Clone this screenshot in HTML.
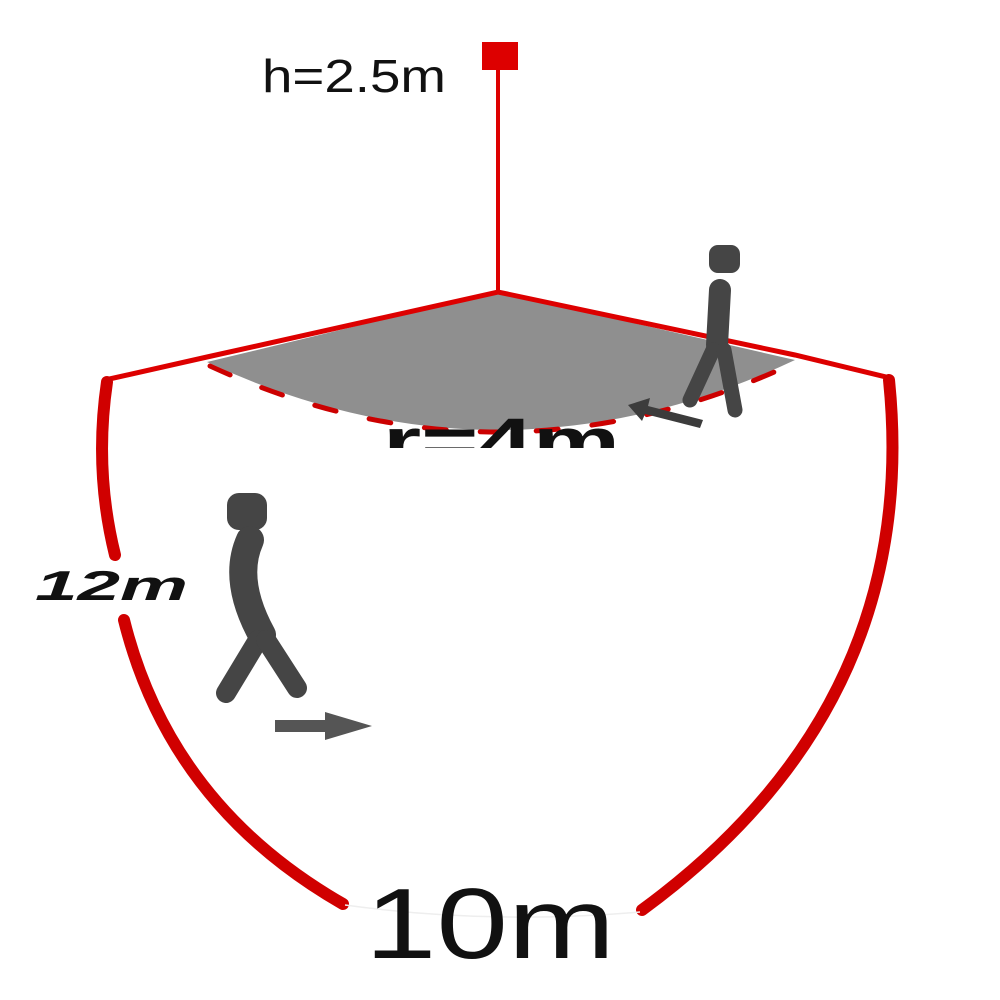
<!DOCTYPE html>
<html><head><style>html,body{margin:0;padding:0;background:#fff}svg{display:block}</style></head>
<body>
<svg width="1000" height="1000" viewBox="0 0 1000 1000" xmlns="http://www.w3.org/2000/svg">
<defs><clipPath id="c"><rect x="0" y="0" width="1000" height="448"/></clipPath></defs>
<!-- floor sector -->
<path d="M498,292 L207,362 Q500,499 795,360 Z" fill="#8f8f8f"/>
<path d="M210,366 Q500,499 792,364" fill="none" stroke="#cc0000" stroke-width="5" stroke-dasharray="22,34" stroke-linecap="round"/>
<!-- pole -->
<line x1="498" y1="292" x2="498" y2="66" stroke="#dd0000" stroke-width="4"/>
<rect x="482" y="42" width="36" height="28" fill="#dd0000"/>
<!-- edges -->
<polyline points="105,380 207,357 498,292 795,355 890,378" fill="none" stroke="#dd0000" stroke-width="5"/>
<!-- big arcs -->
<g fill="none" stroke="#d00000" stroke-width="12" stroke-linecap="round">
<path d="M107,382 Q94,470 115,555"/>
<path d="M124,620 Q170,805 343,904"/>
<path d="M889,380 Q922,705 642,910"/>
</g>
<path d="M345,905 Q490,925 640,912" fill="none" stroke="#eee" stroke-width="1.5"/>
<!-- figure 1 -->
<g fill="#454545" stroke="#454545" stroke-linecap="round">
<rect x="227" y="493" width="40" height="37" rx="12" stroke="none"/>
<path d="M250,540 Q232,580 262,635" fill="none" stroke-width="28"/>
<line x1="258" y1="640" x2="226" y2="693" stroke-width="20"/>
<line x1="266" y1="640" x2="297" y2="688" stroke-width="20"/>
<!-- figure 2 -->
<rect x="709" y="245" width="31" height="28" rx="9" stroke="none"/>
<line x1="720" y1="290" x2="717" y2="345" stroke-width="22"/>
<line x1="713" y1="350" x2="690" y2="400" stroke-width="15"/>
<line x1="724" y1="350" x2="735" y2="410" stroke-width="15"/>
</g>
<polygon points="275,720 325,720 325,712 372,726 325,740 325,732 275,732" fill="#555"/>
<polygon points="628,405 650,398 648,406 703,420 700,428 645,414 642,421" fill="#3c3c3c"/>
<!-- labels -->
<text x="262" y="92" textLength="184" lengthAdjust="spacingAndGlyphs" font-family="Liberation Sans, sans-serif" font-size="46" fill="#111">h=2.5m</text>
<text x="383" y="464" textLength="237" lengthAdjust="spacingAndGlyphs" clip-path="url(#c)" font-family="Liberation Sans, sans-serif" font-weight="bold" font-size="66" fill="#111">r=4m</text>
<text x="35" y="600" textLength="153" lengthAdjust="spacingAndGlyphs" font-family="Liberation Sans, sans-serif" font-weight="bold" font-style="italic" font-size="42" fill="#111">12m</text>
<text x="365" y="958" textLength="250" lengthAdjust="spacingAndGlyphs" font-family="Liberation Sans, sans-serif" font-size="100" fill="#111">10m</text>
</svg>
</body></html>
